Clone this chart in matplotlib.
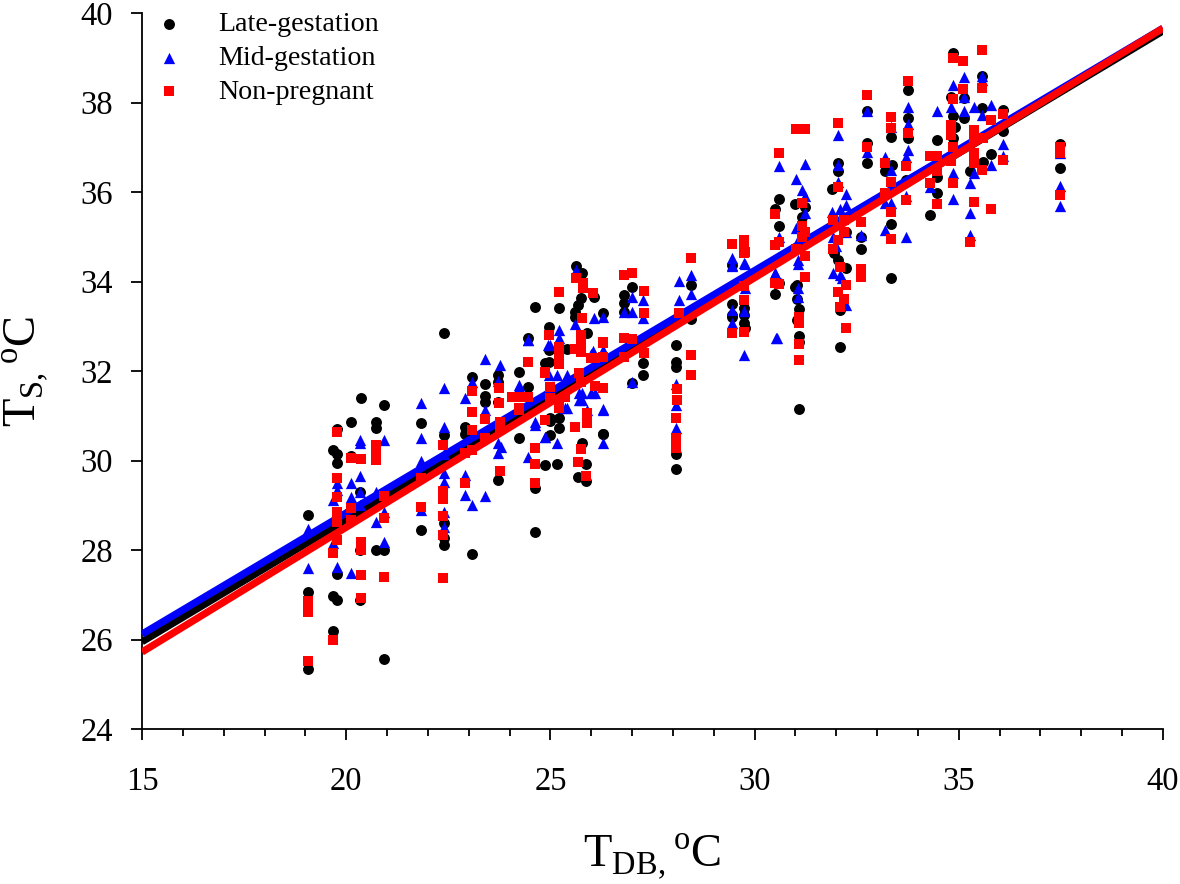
import matplotlib
matplotlib.use("Agg")
import matplotlib.pyplot as plt

# font setup, Times look-alike
plt.rcParams['font.family'] = ['Liberation Serif', 'DejaVu Serif']
plt.rcParams['mathtext.fontset'] = 'custom'
plt.rcParams['mathtext.rm'] = 'Liberation Serif'

series_names = ["Late-gestation", "Mid-gestation", "Non-pregnant"]

# values
late_x = [19.06, 19.06, 19.06, 19.68, 19.68, 19.68, 19.78, 19.78, 19.78, 19.78, 19.78,
          20.12, 20.12, 20.36, 20.35, 20.35, 20.35, 20.72, 20.72, 20.72, 20.93, 20.93, 20.93,
          21.83, 21.83, 22.4, 22.4, 22.4, 22.4, 22.4, 23.08, 23.08, 22.91, 22.91,
          23.4, 23.4, 23.4, 23.72, 23.72, 23.72, 23.72, 24.24, 24.24, 24.45, 24.45,
          24.62, 24.62, 24.62, 24.88, 24.88, 24.97, 24.97, 24.97, 25.0, 25.0, 25.0, 25.15,
          25.2, 25.2, 25.2, 25.4, 25.6, 25.6, 25.63, 25.68, 25.68, 25.75, 25.77, 25.77,
          25.88, 25.88, 25.89, 26.07, 26.28, 26.3, 26.3,
          26.8, 26.8, 26.8, 27.0, 27.0, 27.27, 27.27,
          28.07, 28.07, 28.07, 28.07, 28.07, 28.44, 28.44,
          29.45, 29.45, 29.45, 29.45, 29.75, 29.75, 29.75, 29.77,
          30.5, 30.5, 30.5, 30.6, 30.6, 30.6, 31.0, 31.0, 31.08, 31.08, 31.08, 31.08, 31.15, 31.24,
          31.03, 31.03, 31.03,
          31.9, 31.94, 32.05, 32.05, 32.05, 32.1, 32.1, 32.25, 32.25,
          32.6, 32.6, 32.75, 32.75, 32.75, 33.2, 33.33, 33.33, 33.33, 33.36,
          33.76, 33.76, 33.76, 33.7, 34.3, 34.46, 34.46, 34.46,
          34.8, 34.87, 34.87, 34.9, 34.87, 35.13, 35.13, 35.28,
          35.56, 35.56, 35.6, 35.78, 36.09, 36.09, 37.48, 37.48]
late_y = [28.78, 27.06, 25.34, 30.23, 26.97, 26.2, 30.7, 30.15, 29.95, 26.88, 27.47,
          30.87, 30.1, 31.4, 29.3, 26.88, 28.0, 30.87, 30.72, 28.0, 31.25, 28.0, 25.56,
          30.83, 28.44, 32.84, 30.57, 28.6, 28.27, 28.12, 31.87, 27.92, 30.75, 30.6,
          31.72, 31.44, 31.3, 31.92, 31.76, 31.3, 29.56, 31.98, 30.5, 32.73, 31.65,
          33.44, 29.38, 28.4, 32.17, 29.9, 32.99, 32.47, 32.2, 30.95, 30.57, 30.88, 29.93,
          33.41, 30.95, 30.72, 32.5, 33.32, 33.2, 34.35, 33.47, 29.63, 33.64, 34.18, 30.38,
          29.93, 29.55, 32.84, 33.66, 30.59, 33.3, 30.6,
          33.7, 33.53, 33.32, 33.87, 31.74, 32.17, 31.92,
          32.58, 32.2, 32.1, 30.14, 29.8, 33.92, 33.16,
          34.37, 33.5, 33.25, 33.2, 33.4, 33.25, 33.07, 32.95,
          35.62, 33.72, 34.0, 35.84, 35.24, 33.97, 35.73, 33.88, 33.38, 32.78, 32.65, 31.14, 35.44, 35.67,
          33.92, 33.6, 33.15,
          36.07, 34.63, 36.65, 36.46, 34.49, 32.54, 33.36, 35.1, 34.3,
          35.0, 34.73, 37.82, 37.09, 36.65, 36.47, 34.07, 35.28, 37.24, 36.6,
          38.28, 37.65, 37.2, 36.27, 35.49, 37.16, 35.97, 36.34,
          38.12, 39.1, 37.7, 37.45, 37.2, 38.1, 37.65, 36.46,
          38.6, 37.87, 36.66, 36.86, 37.83, 37.37, 37.08, 36.53]

mid_x = [19.06, 19.06, 19.68, 19.68, 19.78, 19.78, 19.78, 20.12, 20.12, 20.12,
         20.35, 20.35, 20.35, 20.35, 20.35, 20.72, 20.72, 20.93, 20.93, 20.93,
         21.83, 21.83, 21.83, 21.83, 22.4, 22.4, 22.4, 22.4, 22.4, 22.4, 22.4,
         22.91, 22.91, 22.91, 23.08, 23.08, 23.4, 23.4, 23.4, 23.77, 23.72, 23.72, 23.72,
         23.8, 24.24, 24.24, 24.45, 24.45, 24.45, 24.62, 24.62, 24.88, 24.88,
         24.95, 24.97, 25.0, 25.15, 25.16, 25.2, 25.2, 25.35, 25.4, 25.4, 25.6, 25.63, 25.7, 25.7,
         25.77, 25.77, 25.9, 26.0, 26.0, 26.05, 26.07, 26.1, 26.3, 26.3, 26.3, 26.3, 26.3,
         26.8, 27.0, 27.0, 27.0, 27.27, 27.27,
         28.15, 28.15, 28.15, 28.07, 28.07, 28.07, 28.44, 28.44,
         29.45, 29.45, 29.45, 29.45, 29.45, 29.75, 29.75, 29.75, 29.77, 29.77,
         30.5, 30.5, 30.53, 30.55, 30.6, 30.6,
         31.02, 31.02, 31.07, 31.07, 31.07, 31.07, 31.07, 31.15, 31.24, 31.24, 31.24,
         31.9, 31.92, 31.92, 32.0, 32.05, 32.05, 32.05, 32.1, 32.1, 32.15, 32.25, 32.25, 32.25, 32.25,
         32.6, 32.75, 32.75, 33.2, 33.2, 33.33, 33.33, 33.33, 33.2,
         33.76, 33.76, 33.76, 33.7, 33.7, 33.7, 34.46, 34.3,
         34.8, 34.87, 34.87, 34.87, 35.13, 35.13, 35.13, 35.28, 35.28, 35.28, 35.38, 35.38,
         35.56, 35.56, 35.56, 35.78, 35.78, 36.09, 36.09, 37.48, 37.48, 37.48]
mid_y = [28.48, 27.6, 29.12, 28.15, 29.34, 29.5, 27.63, 29.5, 29.18, 27.49,
         29.65, 30.38, 30.45, 29.3, 29.0, 29.3, 28.63, 30.46, 28.18, 28.85,
         31.28, 30.5, 30.0, 28.9, 31.62, 30.75, 30.15, 29.71, 29.52, 28.85, 28.52,
         31.4, 29.67, 29.23, 31.75, 29.0, 32.27, 31.12, 29.2, 32.14, 31.78, 30.39, 30.17,
         30.3, 31.68, 31.65, 32.69, 30.08, 32.7, 30.79, 30.87, 30.53, 30.52,
         32.58, 31.9, 32.58, 30.39, 31.9, 32.92, 32.74, 31.17, 31.17, 31.9, 33.05, 34.26, 31.5, 31.36,
         31.5, 31.35, 31.13, 32.38, 31.5, 32.44, 33.18, 31.5, 31.14, 30.4, 32.47, 31.13, 33.2,
         33.32, 33.66, 33.32, 31.76, 33.58, 33.18,
         34.02, 33.58, 33.3, 31.72, 31.24, 30.72, 34.14, 33.72,
         34.53, 34.35, 34.37, 33.37, 33.07, 34.41, 33.35, 32.36, 34.4, 33.85,
         34.18, 34.2, 32.73, 32.73, 36.58, 35.0,
         36.28, 35.19, 34.93, 34.48, 33.85, 33.66, 34.4, 36.04, 36.62, 35.9, 35.52,
         35.56, 35.0, 34.18, 34.8, 37.27, 36.6, 36.23, 35.63, 34.15, 34.07, 35.96, 35.7, 33.47, 35.1,
         35.04, 37.8, 36.9, 36.79, 35.15, 37.46, 36.5, 35.75, 35.75,
         37.9, 37.53, 36.93, 36.79, 35.9, 35.0, 37.82, 36.12,
         37.9, 38.39, 36.42, 35.84, 38.58, 38.13, 37.8, 36.2, 35.52, 35.04, 37.9, 36.42,
         38.6, 38.5, 37.72, 37.94, 36.6, 37.07, 36.8, 36.13, 35.68, 36.87]

non_x = [19.06, 19.06, 19.06, 19.06, 19.68, 19.68, 19.78, 19.78, 19.78, 19.78, 19.78, 19.78,
         20.12, 20.12, 20.12, 20.36, 20.36, 20.36, 20.36, 20.36, 20.72, 20.72, 20.72,
         20.93, 20.93, 20.93, 21.83, 21.83, 22.38, 22.38, 22.38, 22.38, 22.38, 22.38,
         22.91, 22.91, 23.08, 23.08, 23.08, 23.08, 23.4, 23.4, 23.75, 23.75, 23.77, 23.77, 23.77,
         24.24, 24.05, 24.24, 24.24, 24.45, 24.45, 24.62, 24.62, 24.62, 24.88, 24.88, 24.88,
         24.97, 25.0, 25.0, 25.2, 25.2, 25.2, 25.2, 25.2, 25.2, 25.35, 25.6, 25.6,
         25.62, 25.68, 25.75, 25.75, 25.75, 25.7, 25.75, 25.77, 25.8, 25.8, 25.88, 25.9, 25.9, 25.75,
         26.0, 26.05, 26.09, 26.09, 26.3, 26.3, 26.3, 26.3,
         26.8, 26.8, 26.8, 27.0, 27.0, 27.29, 27.29, 27.29,
         28.15, 28.1, 28.1, 28.07, 28.07, 28.07, 28.07, 28.44, 28.44, 28.44,
         29.45, 29.45, 29.75, 29.75, 29.75, 29.75, 29.75, 29.75, 29.77,
         30.5, 30.5, 30.5, 30.6, 30.6, 30.6, 31.02, 31.02, 31.24, 31.24, 31.15, 31.15, 31.24, 31.02, 31.24, 31.15,
         31.08, 31.08, 31.08, 31.08,
         32.05, 32.05, 31.92, 32.2, 32.2, 32.05, 31.92, 32.1, 32.25, 32.05, 32.2, 32.1, 32.25,
         32.6, 32.6, 32.6, 32.74, 32.74, 33.2, 33.2, 33.33, 33.33, 33.33, 33.33, 33.33,
         33.76, 33.76, 33.7, 33.7, 34.3, 34.46, 34.3, 34.46, 34.46,
         34.87, 35.1, 35.56, 35.56, 35.1, 34.87, 34.8, 34.8, 34.87, 34.8, 34.87,
         35.38, 35.38, 35.38, 35.38, 35.6, 35.78, 35.56, 35.38, 35.78, 35.28, 36.09, 36.09,
         37.48, 37.48, 37.48]
non_y = [26.85, 26.72, 26.62, 25.53, 27.94, 26.0, 30.64, 29.62, 29.18, 28.85, 28.63, 28.22,
         30.05, 28.93, 28.67, 30.03, 28.18, 28.0, 27.44, 26.93, 30.35, 30.12, 30.02,
         29.2, 28.72, 27.39, 29.6, 28.97, 30.34, 29.32, 29.15, 28.77, 28.33, 27.37,
         29.5, 30.17, 31.55, 30.23, 31.08, 30.68, 30.92, 30.5, 31.62, 31.29, 30.87, 30.72, 29.77,
         31.17, 31.42, 31.42, 31.13, 32.2, 31.42, 30.27, 29.92, 29.5, 30.9, 31.97, 31.96,
         32.8, 31.65, 31.4, 33.77, 32.54, 32.36, 32.15, 31.17, 31.35, 31.43, 32.5, 30.75,
         34.07, 29.97, 32.8, 32.6, 32.43, 31.95, 31.76, 33.18, 33.96, 33.85, 29.65, 31.06, 30.83, 30.26,
         32.28, 33.74, 31.66, 32.28, 32.64, 32.32, 31.63, 32.63,
         34.14, 32.73, 32.32, 34.2, 32.72, 33.79, 33.3, 32.4,
         33.29, 31.6, 31.35, 30.94, 30.5, 30.38, 30.27, 34.52, 32.36, 31.92,
         34.84, 32.84, 34.93, 34.8, 34.63, 33.59, 33.9, 32.88, 34.65,
         33.96, 34.82, 35.5, 36.88, 34.89, 33.94, 37.41, 34.73, 37.41, 35.11, 35.75, 35.24, 34.57, 34.73, 34.1, 35.0,
         33.2, 33.07, 32.6, 32.24,
         37.55, 36.12, 35.37, 35.37, 35.1, 34.93, 34.73, 34.33, 33.92, 33.77, 33.6, 33.44, 32.95,
         35.33, 34.29, 34.1, 38.17, 37.01, 36.65, 35.97, 37.67, 37.43, 36.23, 35.56, 34.95,
         38.47, 37.31, 36.57, 35.82, 36.8, 36.8, 36.2, 36.46, 35.73,
         39.0, 38.93, 39.17, 38.32, 38.3, 38.08, 37.5, 37.27, 37.01, 36.7, 36.2,
         37.39, 37.16, 36.87, 36.65, 37.2, 37.6, 36.49, 35.77, 35.62, 34.88, 37.75, 36.71,
         37.0, 36.87, 35.93]

# regression lines, ends of the axis
line_x = [15, 40]
late_line = [25.95, 39.6]
mid_line = [26.12, 39.66]
non_line = [25.72, 39.66]

x_major = [15, 20, 25, 30, 35, 40]
x_minor = list(range(15, 41))
y_major = [24, 26, 28, 30, 32, 34, 36, 38, 40]

fig = plt.figure(figsize=(11.8, 8.84), dpi=100)
ax = fig.add_axes([142 / 1180, 1 - 729 / 884, (1163 - 142) / 1180, (729 - 13) / 884])

h1 = ax.scatter(late_x, late_y, c="black", marker="o", s=62, linewidths=0, zorder=2, label=series_names[0])
ax.plot(line_x, late_line, color="black", lw=5.2, solid_capstyle="butt", zorder=2)
h2 = ax.scatter(mid_x, mid_y, c="#0000ff", marker="^", s=66, linewidths=0, zorder=3, label=series_names[1])
ax.plot(line_x, mid_line, color="#0000ff", lw=5.2, solid_capstyle="butt", zorder=3)
h3 = ax.scatter(non_x, non_y, c="#ff0000", marker="s", s=50, linewidths=0, zorder=4, label=series_names[2])
ax.plot(line_x, non_line, color="#ff0000", lw=5.2, solid_capstyle="butt", zorder=4)

ax.set_xlim(15, 40)
ax.set_ylim(24, 40)
ax.set_xticks(x_major)
ax.set_xticks(x_minor, minor=True)
ax.set_yticks(y_major)
ax.tick_params(axis="both", which="major", labelsize=23.5, length=8, width=1.3, direction="out", pad=13)
ax.tick_params(axis="x", which="minor", length=5, width=1.3, direction="out")
ax.tick_params(axis="x", which="major", pad=19)
ax.spines["top"].set_visible(False)
ax.spines["right"].set_visible(False)
ax.spines["left"].set_linewidth(1.3)
ax.spines["bottom"].set_linewidth(1.3)

ax.set_xlabel(r"T$_{\mathrm{DB,}}$$^{\mathrm{o}}$C", fontsize=33.5, labelpad=25)
ax.set_ylabel(r"T$_{\mathrm{S,}}$$^{\mathrm{o}}$C", fontsize=33.5, labelpad=21)

ax.legend(handles=[h1, h2, h3], loc="upper left", frameon=False, fontsize=20.2,
          bbox_to_anchor=(-0.0116, 1.0176), borderaxespad=0, handletextpad=0.74,
          labelspacing=0.29, scatterpoints=1)

fig.savefig("out.png", dpi=100)
